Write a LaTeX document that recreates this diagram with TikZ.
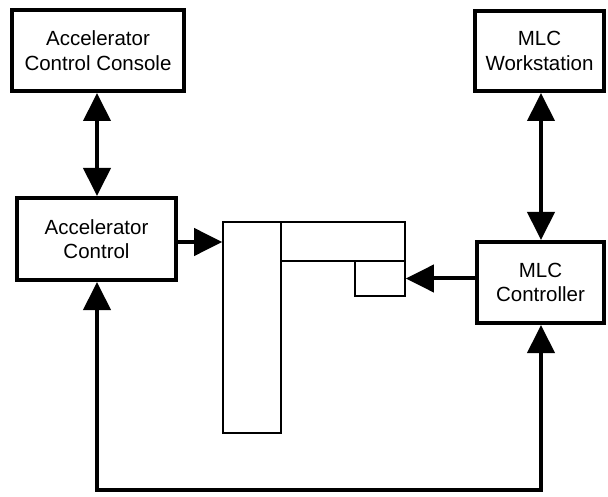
\documentclass[tikz,border=0pt]{standalone}
\usepackage{fontspec}
\setmainfont{Liberation Sans}
\usetikzlibrary{arrows.meta}
\begin{document}
\begin{tikzpicture}[x=1pt,y=-1pt,
  blk/.style={draw, line width=4pt, align=center, inner sep=0pt,
    font=\fontsize{20.5}{24.5}\selectfont},
  mech/.style={draw, line width=1.6pt, inner sep=0pt},
  conn/.style={line width=4pt, -{Triangle[length=28pt,width=27pt]}},
  dconn/.style={line width=4pt, {Triangle[length=28pt,width=27pt]}-{Triangle[length=28pt,width=27pt]}}]
\useasboundingbox (0,0) rectangle (608,497);
\node[blk, minimum width=172pt, minimum height=81pt] (console) at (98,50.5) {Accelerator\\Control Console};
\node[blk, minimum width=129pt, minimum height=80pt] (ws) at (539.5,51) {MLC\\Workstation};
\node[blk, minimum width=159pt, minimum height=82pt] (acc) at (96.5,239) {Accelerator\\Control};
\node[blk, minimum width=127pt, minimum height=81pt] (mlc) at (540.5,282.5) {MLC\\Controller};
% mechanism
\node[mech, minimum width=58pt, minimum height=211pt] (leaf) at (252,327.5) {};
\node[mech, minimum width=124pt, minimum height=39pt] (arm) at (343,241.5) {};
\node[mech, minimum width=50pt, minimum height=35pt] (tip) at (380,278.5) {};
% connectors
\draw[dconn] (console.south -| 97,0) -- (acc.north -| 97,0);
\draw[dconn] (ws.south -| 541,0) -- (mlc.north -| 541,0);
\draw[conn] (acc.east |- 0,242) -- (leaf.west |- 0,242);
\draw[conn] (mlc.west |- tip.east) -- (tip.east);
\coordinate (br) at (541,490);
\coordinate (bl) at (97,490);
\draw[dconn, line join=miter] (mlc.south -| br) -- (br) -- (bl) -- (acc.south -| bl);
\end{tikzpicture}
\end{document}
